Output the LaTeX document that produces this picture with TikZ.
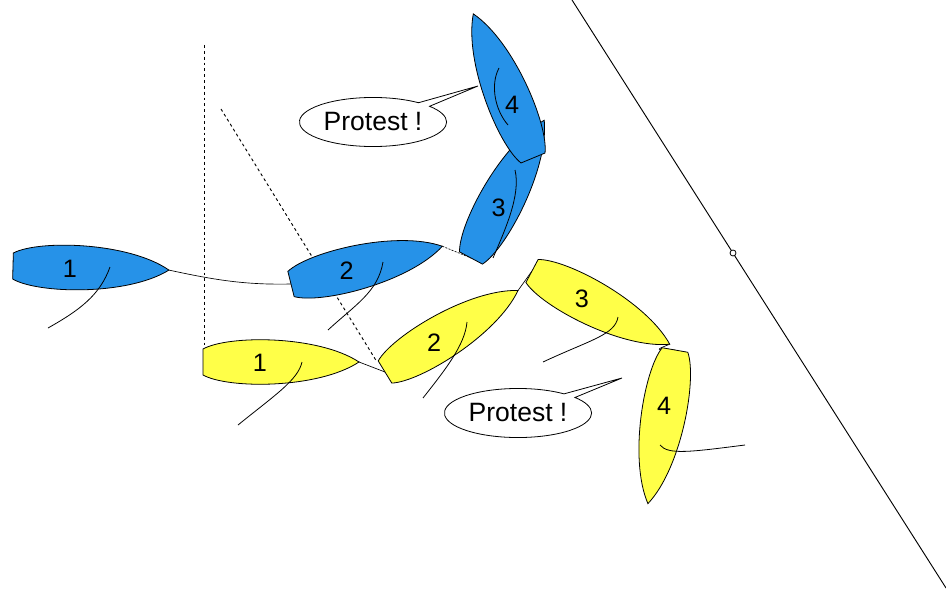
\documentclass[tikz,border=0pt]{standalone}
\usepackage{fontspec}
\setmainfont{Liberation Sans}
\usetikzlibrary{shapes.callouts,backgrounds}
\definecolor{bluehull}{RGB}{38,146,232}
\definecolor{yellowhull}{RGB}{255,255,72}
\begin{document}
\begin{tikzpicture}[x=0.0265cm,y=-0.0265cm,line width=0.6pt,
boat/.pic={\draw[pic actions] (0,-13) .. controls (25,-27) and (115,-27) .. (156,0) .. controls (115,27) and (25,27) .. (0,13) -- cycle;
\coordinate (-stern) at (0,0);
\coordinate (-bow) at (156,0);
\node[font=\fontsize{19}{19}\selectfont] (-num) at (57,1) {#1};},
sail/.style={line width=0.6pt},
track/.style={line width=0.5pt},
guide/.style={line width=0.7pt,dash pattern=on 2.2pt off 2.2pt},
protest/.style={ellipse callout,draw,fill=white,minimum width=111pt,minimum height=37pt,inner sep=0pt,callout pointer arc=12,font=\fontsize{20}{20}\selectfont}]
\useasboundingbox (0,0) rectangle (946,600);
\draw[line width=0.7pt] (572,0) -- (946,588);
\draw[fill=white] (733,253) circle (3);
\pic[fill=bluehull,draw,rotate=-1.5] (b1) at (13,266) {boat=1};
\draw[sail] (110,267) .. controls (100,295) and (80,310) .. (48,328);
\pic[fill=bluehull,draw,rotate=14] (b2) at (291,284) {boat=2};
\draw[sail] (383,262) .. controls (378,292) and (355,305) .. (328,330);
\pic[fill=bluehull,draw,rotate=62] (b3) at (471,258) {boat=3};
\draw[sail] (515,170) .. controls (521,195) and (505,230) .. (493,258);
\pic[fill=bluehull,draw,rotate=112.5] (b4) at (533,158) {boat=4};
\draw[sail] (499,68) .. controls (490,85) and (495,110) .. (508,125);
\pic[fill=yellowhull,draw,rotate=0] (y1) at (203,362) {boat=1};
\draw[sail] (302,362) .. controls (298,380) and (275,395) .. (238,425);
\pic[fill=yellowhull,draw,rotate=31.5] (y2) at (385,372) {boat=2};
\draw[sail] (467,322) .. controls (465,345) and (445,370) .. (423,398);
\pic[fill=yellowhull,draw,rotate=-28] (y3) at (532,271) {boat=3};
\draw[sail] (618,317) .. controls (615,335) and (590,340) .. (543,362);
\pic[fill=yellowhull,draw,rotate=-100] (y4) at (675,350) {boat=4};
\draw[sail] (660,445) .. controls (668,455) and (690,452) .. (745,445);
\begin{scope}[on background layer]
\draw[guide] (204,45) -- (204,348);
\draw[guide] (221,109) -- (377,362);
\draw[track] (b1-bow) .. controls (215,280) and (245,285) .. (b2-stern);
\draw[track,dash pattern=on 1.5pt off 1pt] (b2-bow) -- (b3-stern);
\draw[track] (y1-bow) -- (y2-stern);
\draw[track] (y2-bow) -- (y3-stern);
\draw[track] (y3-bow) .. controls (655,350) .. (y4-stern);
\end{scope}
\node[protest,callout absolute pointer={(478,86)}] (protA) at (373,122) {Protest !};
\node[protest,callout absolute pointer={(622,378)}] (protB) at (518,413) {Protest !};
\end{tikzpicture}
\end{document}
